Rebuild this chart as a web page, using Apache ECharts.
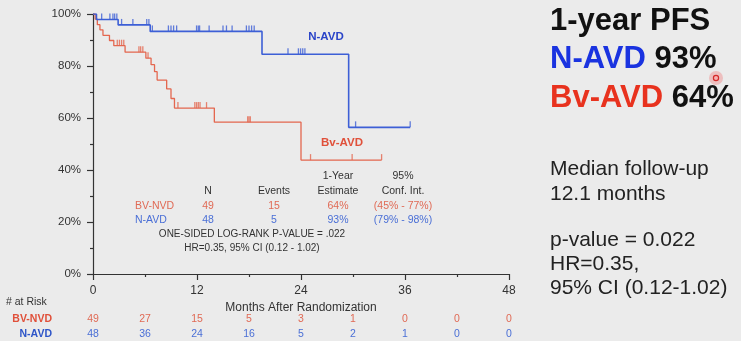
<!DOCTYPE html>
<html>
<head>
<meta charset="utf-8">
<script src="https://cdn.jsdelivr.net/npm/echarts@6/dist/echarts.min.js"></script>
<style>
  html, body { margin: 0; padding: 0; background: #ebebeb; }
  #c { width: 741px; height: 341px; }
</style>
</head>
<body>
<div id="c"></div>
<script>
// Kaplan-Meier progression-free survival, Bv-AVD vs N-AVD (months, % event-free)
const bvTimes = [0, 0.25, 0.5, 0.8, 1.15, 1.9, 2.4, 3.7, 6.1, 6.7, 7.1, 7.4, 8.5, 9.0, 9.4, 14.0, 24.0, 33.3];
const bvSurv  = [100, 98.0, 95.9, 93.9, 91.8, 89.8, 87.8, 85.3, 83.0, 80.5, 77.8, 74.6, 71.2, 67.5, 63.8, 58.4, 43.8, 43.8];
const bvCensored = [2.8, 3.05, 3.3, 3.55, 5.3, 5.5, 5.75, 6.35, 9.8, 11.75, 11.95, 12.15, 12.35, 13.1, 17.85, 18.0, 18.15, 25.1, 29.9, 33.3];

const nTimes = [0, 0.4, 2.9, 6.6, 19.5, 29.5, 36.6];
const nSurv  = [100, 97.9, 95.8, 93.3, 84.5, 56.4, 56.4];
const nCensored = [1.0, 1.95, 2.3, 2.5, 2.75, 3.3, 4.6, 6.2, 6.45, 6.85, 8.7, 9.0, 9.3, 9.65,
  11.95, 12.15, 12.3, 13.4, 15.0, 15.4, 16.05, 17.7, 18.0, 18.3, 18.6,
  22.5, 23.7, 23.95, 24.2, 24.45, 30.3, 36.6];

// numbers at risk
const riskMonths = [0, 6, 12, 18, 24, 30, 36, 42, 48];
const riskBV = [49, 27, 15, 5, 3, 1, 0, 0, 0];
const riskN  = [48, 36, 24, 16, 5, 2, 1, 0, 0];

// summary table
const tableHeader1 = ['', '', '1-Year', '95%'];
const tableHeader2 = ['N', 'Events', 'Estimate', 'Conf. Int.'];
const rowBV = ['BV-NVD', '49', '15', '64%', '(45% - 77%)'];
const rowN  = ['N-AVD', '48', '5', '93%', '(79% - 98%)'];
const pText  = 'ONE-SIDED LOG-RANK P-VALUE = .022';
const hrText = 'HR=0.35, 95% CI (0.12 - 1.02)';

const RED = '#e4674f', BLUE = '#3d5fd6';
const RED_TXT = '#e06a55', BLUE_TXT = '#4a6fd6';
const FONT = '"Liberation Sans", Arial, sans-serif';

function pairs(t, s) { return t.map((v, i) => [v, s[i]]); }
function levelAt(t, times, surv) {
  let v = surv[0];
  for (let i = 0; i < times.length; i++) if (times[i] <= t) v = surv[i];
  return v;
}

const chart = echarts.init(document.getElementById('c'), null, { renderer: 'canvas' });

const tickSymbol = { type: 'scatter', symbol: 'rect', symbolSize: [1.3, 6], symbolOffset: [0, -3], silent: true, z: 3 };

chart.setOption({
  animation: false,
  backgroundColor: '#ebebeb',
  textStyle: { fontFamily: FONT },
  grid: { left: 93, right: 232, top: 14, bottom: 67, containLabel: false },
  xAxis: {
    type: 'value', min: 0, max: 48, interval: 12,
    axisLine: { show: true, lineStyle: { color: '#333', width: 1.2 } },
    axisTick: { show: true, length: 6, lineStyle: { color: '#333', width: 1.2 } },
    minorTick: { show: true, splitNumber: 2, length: 3, lineStyle: { color: '#333', width: 1.2 } },
    splitLine: { show: false },
    axisLabel: { color: '#333', fontSize: 12, margin: 11, fontFamily: FONT },
    name: 'Months After Randomization', nameLocation: 'middle', nameGap: 25,
    nameTextStyle: { color: '#333', fontSize: 12, fontFamily: FONT }
  },
  yAxis: {
    type: 'value', min: 0, max: 100, interval: 20,
    axisLine: { show: true, lineStyle: { color: '#333', width: 1.2 } },
    axisTick: { show: true, length: 6, lineStyle: { color: '#333', width: 1.2 } },
    minorTick: { show: true, splitNumber: 2, length: 3, lineStyle: { color: '#333', width: 1.2 } },
    splitLine: { show: false },
    axisLabel: { color: '#333', fontSize: 11.5, margin: 12, fontFamily: FONT, formatter: v => v + '%' }
  },
  series: [
    { type: 'line', step: 'end', data: pairs(bvTimes, bvSurv), showSymbol: false, silent: true,
      lineStyle: { color: RED, width: 1.3 }, z: 2 },
    { type: 'line', step: 'end', data: pairs(nTimes, nSurv), showSymbol: false, silent: true,
      lineStyle: { color: BLUE, width: 1.6 }, z: 2 },
    Object.assign({}, tickSymbol, { itemStyle: { color: RED },
      data: bvCensored.map(t => [t, levelAt(t, bvTimes, bvSurv)]) }),
    Object.assign({}, tickSymbol, { itemStyle: { color: BLUE },
      data: nCensored.map(t => [t, levelAt(t, nTimes, nSurv)]) })
  ]
});

// text overlays
const g = [];
function txt(x, y, text, opt) {
  g.push({
    type: 'text', x: x, y: y, silent: true,
    style: Object.assign({ text: text, fill: '#333', font: '10px ' + FONT,
      textAlign: 'center', textVerticalAlign: 'middle' }, opt || {})
  });
}

// curve labels
txt(326, 37, 'N-AVD', { fill: '#2a44c8', font: 'bold 11.5px ' + FONT });
txt(342, 143, 'Bv-AVD', { fill: '#e0503a', font: 'bold 11.5px ' + FONT });

// summary table inside the plot
const colX = [208, 274, 338, 403];
tableHeader1.forEach((h, i) => { if (h) txt(colX[i], 176, h, { font: '10.5px ' + FONT }); });
tableHeader2.forEach((h, i) => txt(colX[i], 191, h, { font: '10.5px ' + FONT }));
txt(135, 206, rowBV[0], { textAlign: 'left', fill: RED_TXT, font: '10.5px ' + FONT });
txt(135, 220, rowN[0], { textAlign: 'left', fill: BLUE_TXT, font: '10.5px ' + FONT });
for (let i = 1; i < 5; i++) {
  txt(colX[i - 1], 206, rowBV[i], { fill: RED_TXT, font: '10.5px ' + FONT });
  txt(colX[i - 1], 220, rowN[i], { fill: BLUE_TXT, font: '10.5px ' + FONT });
}
txt(252, 234, pText, { font: '10px ' + FONT });
txt(252, 248, hrText, { font: '10px ' + FONT });

// numbers at risk below the axis
txt(6, 302, '# at Risk', { textAlign: 'left', font: '10.5px ' + FONT });
txt(52, 319, 'BV-NVD', { textAlign: 'right', fill: '#e0503a', font: 'bold 10.5px ' + FONT });
txt(52, 334, 'N-AVD', { textAlign: 'right', fill: '#2e55c8', font: 'bold 10.5px ' + FONT });
riskMonths.forEach((m, i) => {
  const px = chart.convertToPixel({ xAxisIndex: 0 }, m);
  txt(px, 319, String(riskBV[i]), { fill: RED_TXT, font: '10.5px ' + FONT });
  txt(px, 334, String(riskN[i]), { fill: BLUE_TXT, font: '10.5px ' + FONT });
});

// headline summary on the right
const BIG = 'bold 31px ' + FONT;
g.push({ type: 'text', x: 550, y: 37, silent: true,
  style: { text: '1-year PFS', fill: '#111', font: BIG, textVerticalAlign: 'bottom' } });
g.push({ type: 'text', x: 550, y: 75, silent: true,
  style: { text: '{b|N-AVD }{k|93%}', textVerticalAlign: 'bottom',
    rich: { b: { fill: '#1a33e0', font: BIG }, k: { fill: '#111', font: BIG } } } });
g.push({ type: 'text', x: 550, y: 114, silent: true,
  style: { text: '{r|Bv-AVD }{k|64%}', textVerticalAlign: 'bottom',
    rich: { r: { fill: '#e8321e', font: BIG }, k: { fill: '#111', font: BIG } } } });

const MID = '21px ' + FONT;
[['Median follow-up', 180], ['12.1 months', 205], ['p-value = 0.022', 251],
 ['HR=0.35,', 275], ['95% CI (0.12-1.02)', 299]].forEach(([t, y]) => {
  g.push({ type: 'text', x: 550, y: y, silent: true,
    style: { text: t, fill: '#222', font: MID, textVerticalAlign: 'bottom' } });
});

// laser pointer dot
g.push({ type: 'circle', shape: { cx: 716, cy: 78, r: 7 }, silent: true,
  style: { fill: 'rgba(240,110,110,0.35)' } });
g.push({ type: 'circle', shape: { cx: 716, cy: 78, r: 2.6 }, silent: true,
  style: { fill: '#f7b0b0', stroke: '#d42a2a', lineWidth: 1.2 } });

chart.setOption({ graphic: g });
</script>
</body>
</html>
